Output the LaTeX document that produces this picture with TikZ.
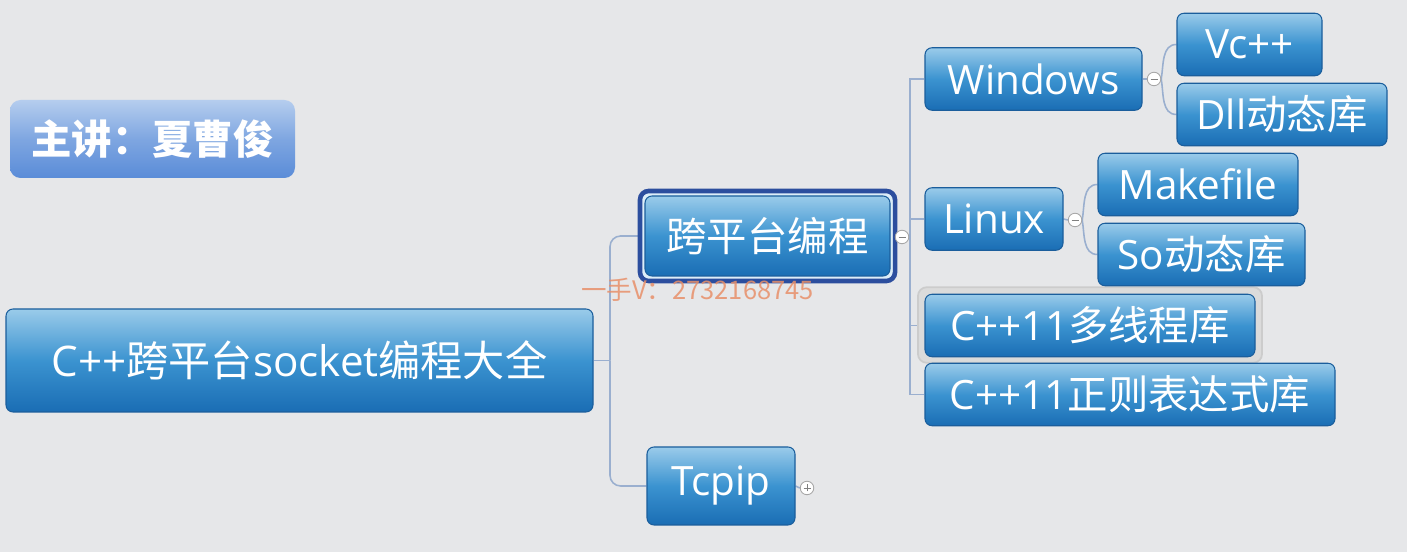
\documentclass[tikz,border=0pt]{standalone}
\usepackage{fontspec}
\newfontfamily\cjk{Noto Sans CJK SC}
\newfontfamily\lat{Open Sans}
\usetikzlibrary{calc,backgrounds}
\definecolor{bgcol}{HTML}{E6E7E9}
\definecolor{boxtop}{HTML}{9ACBEA}
\definecolor{boxmid}{HTML}{3B93D0}
\definecolor{boxbot}{HTML}{1A6DB4}
\definecolor{boxline}{HTML}{1B5E9C}
\definecolor{linkcol}{HTML}{9AAFCF}
\definecolor{selcol}{HTML}{2C4E9E}
\definecolor{spktop}{HTML}{B5CDEE}
\definecolor{spkbot}{HTML}{5A8CD8}
\definecolor{wmark}{HTML}{E8906A}
\newcommand{\zh}[1]{{\cjk #1}}
\tikzset{>=stealth,
  topic/.style={draw=boxline, line width=0.6pt, rounded corners=4pt,
    top color=boxtop, bottom color=boxbot, middle color=boxmid,
    text=white, inner sep=0pt, minimum height=1.25cm,
    font=\lat\fontsize{23}{26}\selectfont},
  link/.style={draw=linkcol, line width=0.9pt},
  fold/.style={circle, draw=gray!70, fill=white, line width=0.5pt,
    minimum size=0.27cm, inner sep=0pt}
}

\begin{document}
\begin{tikzpicture}
\useasboundingbox (0,0) rectangle (28.14,-11.04);
\node[topic, draw=none, rounded corners=6pt, top color=spktop, bottom color=spkbot,
  middle color=spkbot!60!spktop, minimum width=5.7cm, minimum height=1.56cm,
  font=\cjk\bfseries\fontsize{23}{26}\selectfont] (spk) at (3.05,-2.78) {主讲：夏曹俊};
\node[topic, minimum width=11.74cm, minimum height=2.06cm,
  font=\lat\fontsize{24}{28}\selectfont] (root) at (5.99,-7.21) {C++\zh{跨平台}socket\zh{编程大全}};
\node[topic, minimum width=4.9cm, minimum height=1.6cm] (kpt) at (15.35,-4.72) {\zh{跨平台编程}};
\node[topic, minimum width=2.96cm, minimum height=1.56cm] (tcpip) at (14.42,-9.72) {Tcpip};
\node[topic, minimum width=4.34cm] (win) at (20.67,-1.58) {Windows};
\node[topic, minimum width=2.9cm] (vc) at (24.99,-0.89) {Vc++};
\node[topic, minimum width=4.2cm] (dll) at (25.64,-2.29) {Dll\zh{动态库}};
\node[topic, minimum width=2.76cm] (linux) at (19.88,-4.38) {Linux};
\node[topic, minimum width=4.0cm] (make) at (23.96,-3.69) {Makefile};
\node[topic, minimum width=4.14cm] (so) at (24.03,-5.09) {So\zh{动态库}};
\node[topic, minimum width=6.6cm] (thread) at (21.8,-6.51) {C++11\zh{多线程库}};
\node[topic, minimum width=8.2cm] (regex) at (22.6,-7.89) {C++11\zh{正则表达式库}};
\node[fold] (kptc) at (18.04,-4.74) {};
\node[fold] (winc) at (23.08,-1.58) {};
\node[fold] (linc) at (21.5,-4.4) {};
\node[fold] (tcpc) at (16.14,-9.76) {};
\draw[gray] ($(kptc)+(-0.07,0)$) -- ($(kptc)+(0.07,0)$);
\draw[gray] ($(winc)+(-0.07,0)$) -- ($(winc)+(0.07,0)$);
\draw[gray] ($(linc)+(-0.07,0)$) -- ($(linc)+(0.07,0)$);
\draw[gray] ($(tcpc)+(-0.07,0)$) -- ($(tcpc)+(0.07,0)$);
\draw[gray] ($(tcpc)+(0,-0.07)$) -- ($(tcpc)+(0,0.07)$);
\node[text=wmark, opacity=0.85, anchor=west, font=\cjk\fontsize{14.5}{16}\selectfont] (wm) at (11.5,-5.8) {一手V：2732168745};
\coordinate (rj) at (12.2,-7.21);
\coordinate (kj) at (18.2,-4.74);
\begin{scope}[on background layer]
\fill[bgcol] (0,0) rectangle (28.14,-11.04);
\draw[link] (root.east) -- (rj);
\draw[link, rounded corners=6pt] (rj) |- (kpt.west);
\draw[link, rounded corners=6pt] (rj) |- (tcpip.west);
\draw[link] (kpt.east) -- (kptc.west);
\draw[link] (kptc.east) -- (kj);
\draw[link] (kj) |- (win.west);
\draw[link] (kj) |- (linux.west);
\draw[link] (kj) |- (thread.west);
\draw[link] (kj) |- (regex.west);
\draw[link] (win.east) -- (winc.west);
\draw[link] (winc.east) to[out=80,in=180] (vc.west);
\draw[link] (winc.east) to[out=-80,in=180] (dll.west);
\draw[link] (linux.east) -- (linc.west);
\draw[link] (linc.east) to[out=80,in=180] (make.west);
\draw[link] (linc.east) to[out=-80,in=180] (so.west);
\draw[link] (tcpip.east) -- (tcpc.west);
%\draw[link] (spk) -- (root);
\filldraw[fill=boxtop!35, draw=selcol, line width=2.6pt, rounded corners=5pt]
  ($(kpt.south west)+(-0.09,-0.09)$) rectangle ($(kpt.north east)+(0.09,0.09)$);
\filldraw[fill=gray!28, draw=gray!40, line width=1pt, rounded corners=5pt]
  ($(thread.south west)+(-0.13,-0.11)$) rectangle ($(thread.north east)+(0.13,0.13)$);
\end{scope}
\end{tikzpicture}
\end{document}
